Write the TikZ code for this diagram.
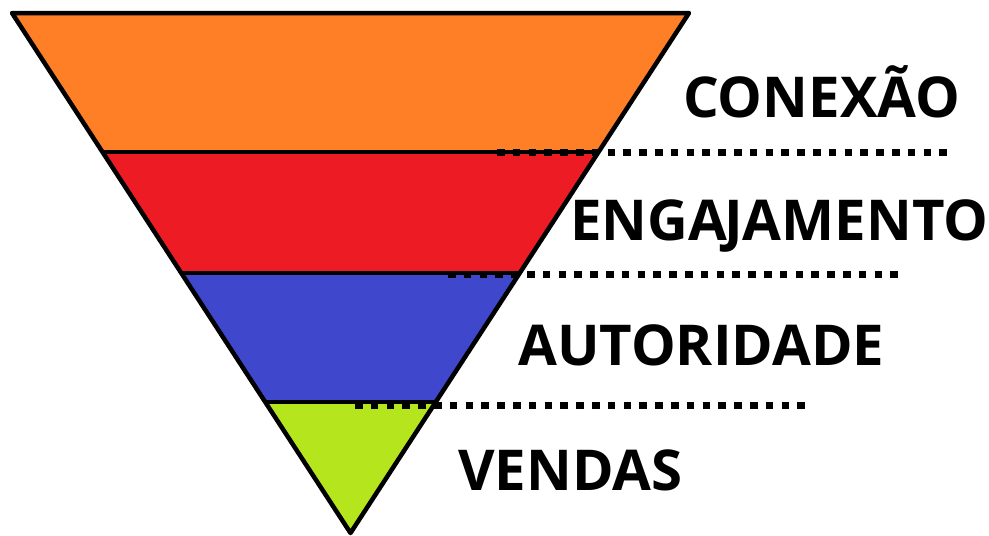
\documentclass[tikz,border=0pt]{standalone}
\usepackage{fontspec}
\setmainfont{Open Sans}
\usetikzlibrary{calc}
\definecolor{laranja}{HTML}{FF7F27}
\definecolor{vermelho}{HTML}{ED1C24}
\definecolor{anil}{HTML}{3F48CC}
\definecolor{limao}{HTML}{B5E61D}
\tikzset{
  faixa/.style={line width=4.5pt, line join=round},
  pontilhado/.style={line width=7pt, dash pattern=on 7.5pt off 8.3pt},
  rotulo/.style={anchor=base west, inner sep=0pt, font=\fontsize{56.3}{62}\selectfont\bfseries}
}

\begin{document}
\begin{tikzpicture}[x=1pt,y=-1pt]
            \useasboundingbox (0,0) rectangle (989,536);
            % funil
            \coordinate (topoE) at (12,13);
            \coordinate (topoD) at (689,13);
            \coordinate (ponta) at (350.5,533);
            \fill[laranja] (topoE) -- (topoD) -- (598.5,152) -- (102.5,152) -- cycle;
            \fill[vermelho] (102.5,152) -- (598.5,152) -- (519.5,273) -- (181.5,273) -- cycle;
            \fill[anil] (181.5,273) -- (519.5,273) -- (436,402) -- (265,402) -- cycle;
            \fill[limao] (265,402) -- (436,402) -- (ponta) -- cycle;
            \draw[faixa] (102.5,152) -- (598.5,152);
            \draw[faixa] (181.5,273) -- (519.5,273);
            \draw[faixa] (265,402) -- (436,402);
            \draw[faixa] (topoE) -- (topoD) -- (ponta) -- cycle;
            % linhas pontilhadas
            \draw[pontilhado] (497,152) -- (954,152);
            \draw[pontilhado] (448,274) -- (904,274);
            \draw[pontilhado] (355,405) -- (811,405);
            % rotulos
            \node[rotulo] (conexao) at (683,117) {CONEXÃO};
            \node[rotulo] (engaj) at (570,240) {ENGA\kern-3pt JAMENTO};
            \node[rotulo] (autor) at (518,365) {AUTORIDADE};
            \node[rotulo] (vendas) at (458,490) {VENDAS};
        \end{tikzpicture}
\end{document}
